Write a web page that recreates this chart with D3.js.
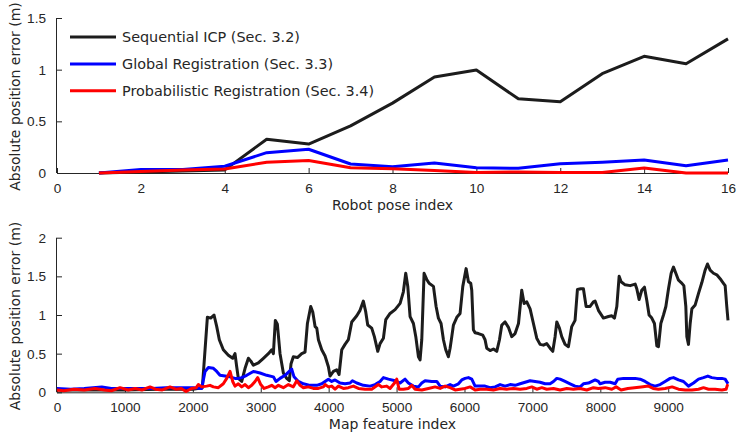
<!DOCTYPE html>
<html>
<head>
<meta charset="utf-8">
<script src="https://cdn.jsdelivr.net/npm/d3@7"></script>
<style>
  html, body { margin: 0; padding: 0; background: #fff; }
  svg { display: block; font-family: "DejaVu Sans", sans-serif; }
  .tick text { fill: #262626; font-size: 13.6px; }
  .axis path, .axis line { stroke: #262626; stroke-width: 1; }
  .lbl { fill: #262626; font-size: 14px; }
  .leg { fill: #262626; font-size: 14.4px; }
</style>
</head>
<body>
<svg id="chart" width="739" height="436"></svg>
<script>
// ---- Series names and colours ----
const seriesNames = ["Sequential ICP (Sec. 3.2)", "Global Registration (Sec. 3.3)", "Probabilistic Registration (Sec. 3.4)"];
const seriesColors = ["#1c1c1c", "#0000ff", "#ff0000"];

// ---- Top panel: error per robot pose ----
const poseIndex = [1, 2, 3, 4, 5, 6, 7, 8, 9, 10, 11, 12, 13, 14, 15, 16];
const poseErrICP = [0, 0.01, 0.02, 0.03, 0.327, 0.28, 0.456, 0.676, 0.929, 0.997, 0.718, 0.689, 0.961, 1.129, 1.058, 1.298];
const poseErrGlobal = [0, 0.035, 0.035, 0.065, 0.197, 0.23, 0.087, 0.061, 0.097, 0.051, 0.045, 0.09, 0.104, 0.126, 0.071, 0.126];
const poseErrProb = [0, 0.015, 0.03, 0.039, 0.104, 0.12, 0.051, 0.04, 0.025, 0.005, 0.01, 0.005, 0.005, 0.049, 0.0, 0.0];
const poseTicks = [0, 2, 4, 6, 8, 10, 12, 14, 16];
const poseErrTicks = [0, 0.5, 1, 1.5];

// ---- Bottom panel: error per map feature ----
const featIdxICP = [0, 500, 1000, 1500, 2000, 2140, 2214, 2263, 2312, 2352, 2390, 2449, 2523, 2587, 2621, 2646, 2670, 2720, 2769, 2818, 2857, 2891, 2965, 3039, 3112, 3162, 3186, 3215, 3245, 3284, 3333, 3382, 3421, 3446, 3480, 3540, 3603, 3652, 3687, 3736, 3766, 3800, 3825, 3849, 3898, 3947, 3996, 4020, 4070, 4118, 4153, 4193, 4241, 4290, 4340, 4414, 4462, 4511, 4546, 4575, 4634, 4673, 4723, 4757, 4806, 4841, 4904, 4978, 5052, 5100, 5135, 5165, 5199, 5248, 5283, 5322, 5346, 5371, 5405, 5444, 5479, 5543, 5582, 5616, 5655, 5690, 5724, 5763, 5788, 5813, 5837, 5887, 5935, 5975, 6024, 6058, 6092, 6107, 6131, 6156, 6205, 6269, 6303, 6328, 6377, 6426, 6475, 6515, 6549, 6598, 6647, 6696, 6745, 6795, 6843, 6878, 6917, 6966, 7015, 7064, 7113, 7162, 7211, 7260, 7300, 7334, 7359, 7398, 7432, 7481, 7530, 7579, 7628, 7663, 7712, 7751, 7791, 7849, 7898, 7923, 7972, 8046, 8120, 8169, 8208, 8243, 8277, 8306, 8365, 8439, 8513, 8537, 8571, 8610, 8650, 8684, 8718, 8758, 8797, 8832, 8856, 8891, 8930, 8965, 9004, 9043, 9077, 9112, 9151, 9190, 9230, 9259, 9274, 9298, 9323, 9348, 9397, 9446, 9495, 9543, 9578, 9617, 9666, 9715, 9764, 9813, 9838, 9862, 9880];
const featErrICP = [0.03, 0.03, 0.03, 0.04, 0.04, 0.06, 0.97, 0.96, 1.0, 0.85, 0.68, 0.55, 0.48, 0.44, 0.50, 0.33, 0.18, 0.14, 0.31, 0.44, 0.40, 0.35, 0.38, 0.44, 0.50, 0.55, 0.50, 0.93, 0.88, 0.50, 0.25, 0.18, 0.15, 0.37, 0.46, 0.45, 0.50, 0.52, 0.89, 1.11, 1.04, 0.85, 0.83, 0.68, 0.55, 0.47, 0.33, 0.21, 0.27, 0.29, 0.23, 0.55, 0.62, 0.68, 0.91, 0.99, 1.06, 1.18, 1.04, 0.87, 0.83, 0.72, 0.53, 0.63, 0.70, 0.94, 1.02, 1.07, 1.15, 1.30, 1.54, 1.37, 0.98, 0.89, 0.72, 0.46, 0.42, 0.68, 1.54, 1.46, 1.41, 1.37, 1.11, 0.96, 0.89, 0.68, 0.55, 0.46, 0.57, 0.72, 0.87, 0.97, 1.02, 1.37, 1.60, 1.43, 1.41, 1.32, 0.81, 0.77, 0.76, 0.74, 0.68, 0.57, 0.54, 0.56, 0.53, 0.68, 0.87, 0.91, 0.84, 0.72, 0.76, 0.89, 1.32, 1.15, 1.17, 1.08, 0.89, 0.70, 0.62, 0.61, 0.63, 0.57, 0.53, 0.72, 0.91, 0.83, 0.72, 0.62, 0.59, 0.85, 0.93, 1.33, 1.34, 1.34, 1.11, 1.11, 1.17, 1.18, 1.06, 0.96, 0.98, 0.99, 0.96, 1.11, 1.50, 1.43, 1.39, 1.38, 1.40, 1.34, 1.20, 1.32, 1.36, 1.19, 1.00, 0.96, 0.89, 0.60, 0.59, 0.89, 1.00, 1.11, 1.34, 1.54, 1.62, 1.54, 1.45, 1.42, 1.38, 1.11, 0.72, 0.62, 0.89, 1.08, 1.13, 1.28, 1.42, 1.58, 1.66, 1.58, 1.54, 1.52, 1.47, 1.41, 1.38, 1.11, 0.93];

const featIdxGlobal = [0, 200, 400, 660, 800, 1000, 1200, 1400, 1600, 1800, 2000, 2130, 2180, 2229, 2303, 2352, 2400, 2474, 2548, 2621, 2670, 2720, 2793, 2891, 2990, 3088, 3186, 3225, 3284, 3358, 3431, 3456, 3490, 3554, 3628, 3726, 3825, 3898, 3947, 3996, 4045, 4094, 4168, 4241, 4315, 4350, 4414, 4511, 4610, 4683, 4757, 4806, 4880, 4978, 5052, 5125, 5174, 5248, 5322, 5371, 5420, 5518, 5592, 5641, 5715, 5788, 5837, 5911, 5960, 6009, 6058, 6107, 6156, 6230, 6303, 6377, 6451, 6524, 6598, 6672, 6745, 6819, 6893, 6966, 7040, 7113, 7187, 7260, 7310, 7359, 7408, 7481, 7555, 7628, 7702, 7751, 7825, 7923, 7972, 7997, 8071, 8145, 8218, 8257, 8341, 8513, 8587, 8660, 8733, 8807, 8880, 8954, 9028, 9077, 9151, 9225, 9298, 9372, 9446, 9519, 9583, 9641, 9715, 9789, 9838, 9880];
const featErrGlobal = [0.05, 0.04, 0.05, 0.07, 0.05, 0.05, 0.05, 0.05, 0.06, 0.06, 0.06, 0.05, 0.27, 0.32, 0.31, 0.27, 0.22, 0.21, 0.20, 0.18, 0.18, 0.19, 0.22, 0.27, 0.25, 0.22, 0.20, 0.14, 0.18, 0.22, 0.28, 0.30, 0.20, 0.14, 0.11, 0.09, 0.09, 0.11, 0.14, 0.17, 0.14, 0.16, 0.12, 0.11, 0.12, 0.15, 0.12, 0.09, 0.08, 0.10, 0.14, 0.19, 0.17, 0.15, 0.12, 0.17, 0.12, 0.08, 0.07, 0.12, 0.15, 0.14, 0.14, 0.08, 0.07, 0.10, 0.08, 0.11, 0.16, 0.18, 0.19, 0.17, 0.08, 0.08, 0.08, 0.06, 0.07, 0.10, 0.08, 0.10, 0.09, 0.11, 0.13, 0.15, 0.14, 0.13, 0.11, 0.11, 0.14, 0.18, 0.17, 0.14, 0.11, 0.08, 0.07, 0.11, 0.12, 0.16, 0.14, 0.11, 0.13, 0.13, 0.11, 0.17, 0.18, 0.18, 0.17, 0.14, 0.10, 0.08, 0.10, 0.14, 0.18, 0.19, 0.16, 0.14, 0.08, 0.12, 0.17, 0.19, 0.21, 0.19, 0.18, 0.18, 0.17, 0.11];

const featIdxProb = [0, 100, 250, 400, 560, 700, 800, 928, 1050, 1150, 1250, 1370, 1450, 1550, 1664, 1750, 1830, 1900, 1980, 2050, 2081, 2130, 2204, 2253, 2303, 2376, 2449, 2499, 2548, 2587, 2621, 2670, 2720, 2769, 2818, 2867, 2916, 2955, 3000, 3049, 3112, 3162, 3211, 3260, 3333, 3407, 3480, 3530, 3579, 3628, 3702, 3775, 3849, 3922, 3947, 3996, 4045, 4094, 4143, 4217, 4290, 4364, 4438, 4536, 4634, 4732, 4782, 4855, 4904, 4978, 5002, 5037, 5100, 5174, 5223, 5272, 5371, 5469, 5567, 5641, 5715, 5788, 5862, 5935, 6009, 6083, 6156, 6230, 6328, 6426, 6524, 6622, 6721, 6819, 6917, 6991, 7064, 7138, 7211, 7310, 7408, 7506, 7604, 7702, 7800, 7898, 7972, 8071, 8169, 8233, 8306, 8405, 8503, 8601, 8709, 8778, 8856, 8954, 9057, 9151, 9250, 9348, 9446, 9519, 9593, 9690, 9789, 9852, 9870, 9880];
const featErrProb = [0.03, 0.02, 0.04, 0.03, 0.05, 0.03, 0.02, 0.06, 0.03, 0.05, 0.03, 0.07, 0.04, 0.03, 0.07, 0.04, 0.05, 0.01, 0.05, 0.06, 0.10, 0.07, 0.08, 0.09, 0.07, 0.06, 0.11, 0.18, 0.27, 0.14, 0.08, 0.11, 0.07, 0.10, 0.06, 0.09, 0.14, 0.19, 0.10, 0.05, 0.07, 0.09, 0.06, 0.09, 0.06, 0.10, 0.07, 0.15, 0.09, 0.06, 0.07, 0.05, 0.05, 0.07, 0.10, 0.07, 0.08, 0.04, 0.08, 0.05, 0.06, 0.08, 0.05, 0.04, 0.04, 0.10, 0.07, 0.08, 0.05, 0.13, 0.17, 0.04, 0.04, 0.05, 0.09, 0.04, 0.03, 0.05, 0.07, 0.05, 0.08, 0.06, 0.03, 0.04, 0.05, 0.07, 0.03, 0.04, 0.04, 0.03, 0.05, 0.04, 0.05, 0.04, 0.05, 0.07, 0.04, 0.06, 0.04, 0.05, 0.03, 0.05, 0.04, 0.05, 0.03, 0.06, 0.05, 0.06, 0.04, 0.07, 0.03, 0.05, 0.06, 0.07, 0.08, 0.05, 0.04, 0.05, 0.07, 0.04, 0.03, 0.03, 0.04, 0.06, 0.04, 0.04, 0.03, 0.04, 0.09, 0.08];
const featTicks = [0, 1000, 2000, 3000, 4000, 5000, 6000, 7000, 8000, 9000];
const featErrTicks = [0, 0.5, 1, 1.5, 2];

// ---- Drawing ----
const svg = d3.select("#chart");
const left = 57, right = 728;

function zip(xs, ys) { return xs.map((x, i) => [x, ys[i]]); }

function panel(cfg) {
  const x = d3.scaleLinear().domain(cfg.xDomain).range([left, right]);
  const y = d3.scaleLinear().domain(cfg.yDomain).range([cfg.bottom, cfg.top]);
  const g = svg.append("g");

  // inward ticks on the bottom and left edges only
  const xAxis = d3.axisBottom(x).tickValues(cfg.xTicks).tickSizeInner(-5).tickSizeOuter(0).tickPadding(10).tickFormat(d3.format("d"));
  g.append("g").attr("class", "axis").attr("transform", `translate(0,${cfg.bottom})`).call(xAxis)
    .call(s => s.select(".domain").attr("d", `M${left},0.5H${right}`));

  const yAxis = d3.axisLeft(y).tickValues(cfg.yTicks).tickSizeInner(-5).tickSizeOuter(0).tickPadding(11).tickFormat(d => String(d));
  g.append("g").attr("class", "axis").attr("transform", `translate(${left},0)`).call(yAxis)
    .call(s => s.select(".domain").attr("d", `M-0.5,${cfg.top}V${cfg.bottom}`));

  const line = d3.line().x(d => x(d[0])).y(d => y(d[1]));
  cfg.series.forEach((pts, i) => {
    g.append("path").datum(pts)
      .attr("fill", "none").attr("stroke", seriesColors[i]).attr("stroke-width", 3)
      .attr("stroke-linejoin", "round").attr("stroke-linecap", "butt")
      .attr("d", line);
  });

  g.append("text").attr("class", "lbl").attr("text-anchor", "middle")
    .attr("x", (left + right) / 2).attr("y", cfg.bottom + 37).text(cfg.xLabel);
  g.append("text").attr("class", "lbl").attr("text-anchor", "middle")
    .attr("transform", `translate(20,${(cfg.top + cfg.bottom) / 2 + 1}) rotate(-90)`).text(cfg.yLabel);
  return { x, y, g };
}

panel({
  xDomain: [0, 16], yDomain: [0, 1.5], top: 18, bottom: 173,
  xTicks: poseTicks, yTicks: poseErrTicks,
  xLabel: "Robot pose index", yLabel: "Absolute position error (m)",
  series: [zip(poseIndex, poseErrICP), zip(poseIndex, poseErrGlobal), zip(poseIndex, poseErrProb)]
});

panel({
  xDomain: [0, 9880], yDomain: [0, 2], top: 237.7, bottom: 392.3,
  xTicks: featTicks, yTicks: featErrTicks,
  xLabel: "Map feature index", yLabel: "Absolute position error (m)",
  series: [zip(featIdxICP, featErrICP), zip(featIdxGlobal, featErrGlobal), zip(featIdxProb, featErrProb)]
});

// Legend in the top panel, without a frame
const legend = svg.append("g");
seriesNames.forEach((name, i) => {
  const ly = 37 + i * 26.9;
  legend.append("line").attr("x1", 70).attr("x2", 116).attr("y1", ly).attr("y2", ly)
    .attr("stroke", seriesColors[i]).attr("stroke-width", 3);
  legend.append("text").attr("class", "leg").attr("x", 122).attr("y", ly + 5).text(name);
});
</script>
</body>
</html>
